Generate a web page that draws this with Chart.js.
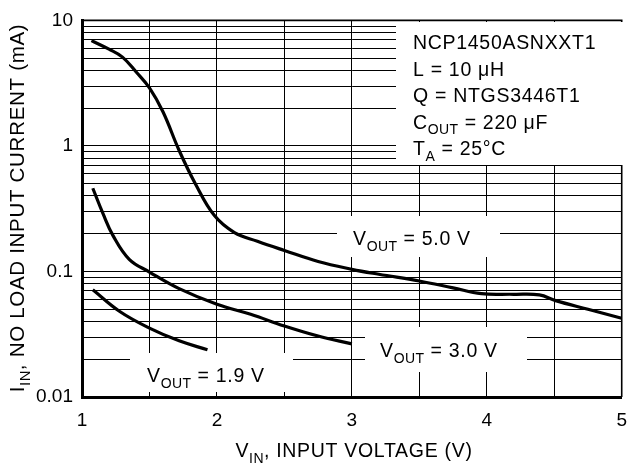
<!DOCTYPE html>
<html>
<head>
<meta charset="utf-8">
<script src="https://cdn.jsdelivr.net/npm/chart.js@4.4.1/dist/chart.umd.min.js"></script>
<style>
  html, body { margin: 0; padding: 0; background: #fff; }
  #wrap { width: 639px; height: 467px; }
</style>
</head>
<body>
<div id="wrap"><canvas id="chart" width="639" height="467"></canvas></div>
<script>
// values (V_IN in volts, I_IN in mA)
var vin50 = [1.07, 1.2, 1.3, 1.4, 1.5, 1.6, 1.72, 1.84, 1.98, 2.13, 2.3, 2.5, 2.75, 3.0, 3.2, 3.5, 3.75, 3.96, 4.2, 4.39, 4.51, 4.75, 5.0];
var iin50 = [6.9, 5.9, 5.1, 3.9, 2.9, 1.87, 0.92, 0.5, 0.28, 0.204, 0.174, 0.147, 0.12, 0.104, 0.095, 0.084, 0.074, 0.0665, 0.0658, 0.065, 0.0586, 0.05, 0.0424];

var vin30 = [1.08, 1.155, 1.23, 1.35, 1.5, 1.72, 2.0, 2.25, 2.5, 2.75, 3.0];
var iin30 = [0.46, 0.29, 0.193, 0.125, 0.099, 0.073, 0.0548, 0.0456, 0.0368, 0.0306, 0.0265];

var vin19 = [1.08, 1.28, 1.5, 1.72, 1.93];
var iin19 = [0.0715, 0.048, 0.0354, 0.028, 0.0238];

var xTickLabels = [1, 2, 3, 4, 5];
var yTickLabels = [0.01, 0.1, 1, 10];

var FONT = '"Liberation Sans", Arial, Helvetica, sans-serif';

function toPoints(xs, ys) {
    var pts = [];
    for (var i = 0; i < xs.length; i++) {
        pts.push({x: xs[i], y: ys[i]});
    }
    return pts;
}

function makeSet(label, xs, ys) {
    return {
        label: label,
        data: toPoints(xs, ys),
        borderColor: '#000',
        borderWidth: 3.2,
        pointRadius: 0,
        fill: false,
        tension: 0.4,
        borderCapStyle: 'butt'
    };
}

// text made of [string, isSubscript] parts
function setFont(ctx, sub, size) {
    ctx.font = (sub ? Math.round(size * 0.72) : size) + 'px ' + FONT;
    ctx.letterSpacing = (sub ? 0.4 : 0.7) + 'px';
}

function partsWidth(ctx, parts, size) {
    var w = 0;
    for (var i = 0; i < parts.length; i++) {
        setFont(ctx, parts[i][1], size);
        w += ctx.measureText(parts[i][0]).width;
    }
    return w;
}

function drawParts(ctx, parts, x, y, size, align) {
    ctx.save();
    ctx.fillStyle = '#000';
    ctx.textBaseline = 'alphabetic';
    ctx.textAlign = 'left';
    if (align === 'center') {
        x -= partsWidth(ctx, parts, size) / 2;
    }
    for (var i = 0; i < parts.length; i++) {
        var sub = parts[i][1];
        setFont(ctx, sub, size);
        ctx.fillText(parts[i][0], x, y + (sub ? size * 0.29 : 0));
        x += ctx.measureText(parts[i][0]).width;
    }
    ctx.restore();
}

var annotations = {
    id: 'annotations',
    beforeDatasetsDraw: function(chart) {
        var ctx = chart.ctx;
        var a = chart.chartArea;
        ctx.save();
        // top and right frame
        ctx.strokeStyle = '#000';
        ctx.lineWidth = 1.6;
        ctx.beginPath();
        ctx.moveTo(a.left, a.top);
        ctx.lineTo(a.right, a.top);
        ctx.lineTo(a.right, a.bottom);
        ctx.stroke();

        // white label boxes
        ctx.fillStyle = '#fff';
        ctx.fillRect(396, 22, 230, 143);
        ctx.fillRect(337, 216, 163, 41);
        ctx.fillRect(365, 327, 162, 45);
        ctx.fillRect(130, 353, 163, 39);
        ctx.restore();

        drawParts(ctx, [['NCP1450ASNXXT1', false]], 413, 49, 19.5);
        drawParts(ctx, [['L = 10 \u03BCH', false]], 413, 75.5, 19.5);
        drawParts(ctx, [['Q = NTGS3446T1', false]], 413, 102, 19.5);
        drawParts(ctx, [['C', false], ['OUT', true], [' = 220 \u03BCF', false]], 413, 128.5, 19.5);
        drawParts(ctx, [['T', false], ['A', true], [' = 25\u00B0C', false]], 413, 155, 19.5);

        drawParts(ctx, [['V', false], ['OUT', true], [' = 5.0 V', false]], 353, 245, 19.5);
        drawParts(ctx, [['V', false], ['OUT', true], [' = 3.0 V', false]], 380, 357, 19.5);
        drawParts(ctx, [['V', false], ['OUT', true], [' = 1.9 V', false]], 147, 382, 19.5);
    },
    afterDraw: function(chart) {
        var ctx = chart.ctx;
        drawParts(ctx, [['V', false], ['IN', true], [', INPUT VOLTAGE (V)', false]], 354, 457, 19.5, 'center');
        ctx.save();
        ctx.translate(24, 208);
        ctx.rotate(-Math.PI / 2);
        drawParts(ctx, [['I', false], ['IN', true], [', NO LOAD INPUT CURRENT (mA)', false]], 0, 0, 20.5, 'center');
        ctx.restore();
    }
};

var ctxL = document.getElementById('chart').getContext('2d');

var myChart = new Chart(ctxL, {
    type: 'line',
    data: {
        datasets: [
            makeSet('VOUT = 5.0 V', vin50, iin50),
            makeSet('VOUT = 3.0 V', vin30, iin30),
            makeSet('VOUT = 1.9 V', vin19, iin19)
        ]
    },
    options: {
        responsive: false,
        animation: false,
        events: [],
        layout: { padding: { left: 0, right: 9, top: 14, bottom: 0 } },
        plugins: {
            legend: { display: false },
            tooltip: { enabled: false }
        },
        scales: {
            x: {
                type: 'linear',
                min: 1,
                max: 5,
                afterFit: function(scale) { scale.height = 70; },
                afterBuildTicks: function(scale) {
                    var t = [];
                    for (var v = 1; v <= 5.001; v += 0.5) t.push({value: Math.round(v * 10) / 10});
                    scale.ticks = t;
                },
                ticks: {
                    autoSkip: false,
                    maxRotation: 0,
                    padding: 12,
                    color: '#000',
                    font: { family: FONT, size: 19 },
                    callback: function(v) { return xTickLabels.indexOf(v) >= 0 ? String(v) : ''; }
                },
                grid: { color: '#000', lineWidth: 1, drawTicks: false },
                border: { color: '#000', width: 3 }
            },
            y: {
                type: 'logarithmic',
                min: 0.01,
                max: 10,
                afterFit: function(scale) { scale.width = 82; },
                afterBuildTicks: function(scale) {
                    var t = [];
                    for (var d = 0; d < yTickLabels.length - 1; d++) {
                        for (var m = 1; m < 10; m++) {
                            t.push({value: yTickLabels[d] * m});
                        }
                    }
                    t.push({value: yTickLabels[yTickLabels.length - 1]});
                    scale.ticks = t;
                },
                ticks: {
                    autoSkip: false,
                    padding: 9,
                    color: '#000',
                    font: { family: FONT, size: 19 },
                    callback: function(v) {
                        for (var i = 0; i < yTickLabels.length; i++) {
                            if (Math.abs(v - yTickLabels[i]) < yTickLabels[i] * 1e-6) return String(yTickLabels[i]);
                        }
                        return '';
                    }
                },
                grid: { color: '#000', lineWidth: 1, drawTicks: false },
                border: { color: '#000', width: 3 }
            }
        }
    },
    plugins: [annotations]
});
</script>
</body>
</html>
